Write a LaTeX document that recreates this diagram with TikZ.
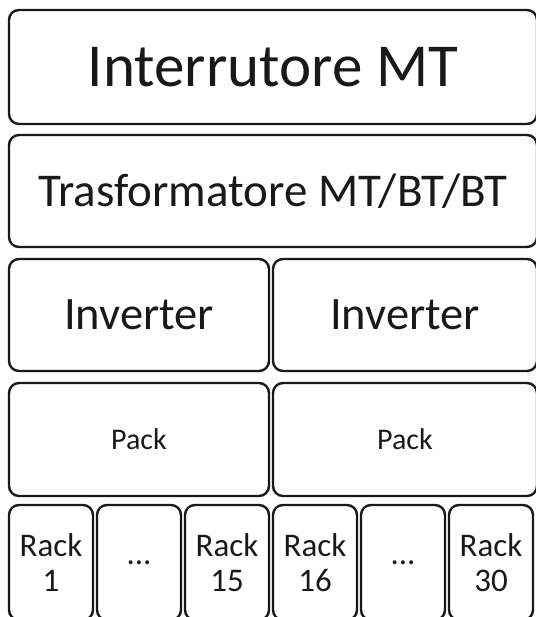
\documentclass[tikz,border=0pt]{standalone}
\usepackage{fontspec}
\setmainfont{Carlito}
\usetikzlibrary{positioning}

\begin{document}
\begin{tikzpicture}[x=1pt, y=1pt, every node/.style={draw=black!90, line width=2.4pt, rounded corners=10pt, outer sep=0pt, inner sep=0pt, align=center, text=black!90}]

        \useasboundingbox (0,0) rectangle (535,-617);

        \node (breaker) [anchor=north west, minimum width=528pt, minimum height=114pt, font=\fontsize{61}{63}\selectfont] at (9,-10) {Interrutore MT};

        \node (trafo) [below=11pt of breaker, minimum width=528pt, minimum height=112pt, font=\fontsize{47}{49}\selectfont] {Trasformatore MT/BT/BT};

        \node (invleft) [below=12pt of trafo.south west, anchor=north west, minimum width=260pt, minimum height=112pt, font=\fontsize{46.5}{48}\selectfont] {Inverter};
        \node (invright) [right=4pt of invleft, minimum width=264pt, minimum height=112pt, font=\fontsize{46.5}{48}\selectfont] {Inverter};

        \node (packleft) [below=12pt of invleft, minimum width=260pt, minimum height=113pt, font=\fontsize{30}{32}\selectfont] {Pack};
        \node (packright) [below=12pt of invright, minimum width=264pt, minimum height=113pt, font=\fontsize{30}{32}\selectfont] {Pack};

        % rack row, runs past the bottom edge
        \node (rack1) [below=9pt of packleft.south west, anchor=north west, minimum width=84pt, minimum height=115pt, font=\fontsize{33}{35}\selectfont] {Rack\\1};
        \node (rackdotsa) [right=4pt of rack1, minimum width=84pt, minimum height=115pt, font=\fontsize{33}{35}\selectfont] {...};
        \node (rack15) [right=4pt of rackdotsa, minimum width=84pt, minimum height=115pt, font=\fontsize{33}{35}\selectfont] {Rack\\15};
        \node (rack16) [right=4pt of rack15, minimum width=84pt, minimum height=115pt, font=\fontsize{33}{35}\selectfont] {Rack\\16};
        \node (rackdotsb) [right=4pt of rack16, minimum width=84pt, minimum height=115pt, font=\fontsize{33}{35}\selectfont] {...};
        \node (rack30) [right=4pt of rackdotsb, minimum width=84pt, minimum height=115pt, font=\fontsize{33}{35}\selectfont] {Rack\\30};

    \end{tikzpicture}
\end{document}
